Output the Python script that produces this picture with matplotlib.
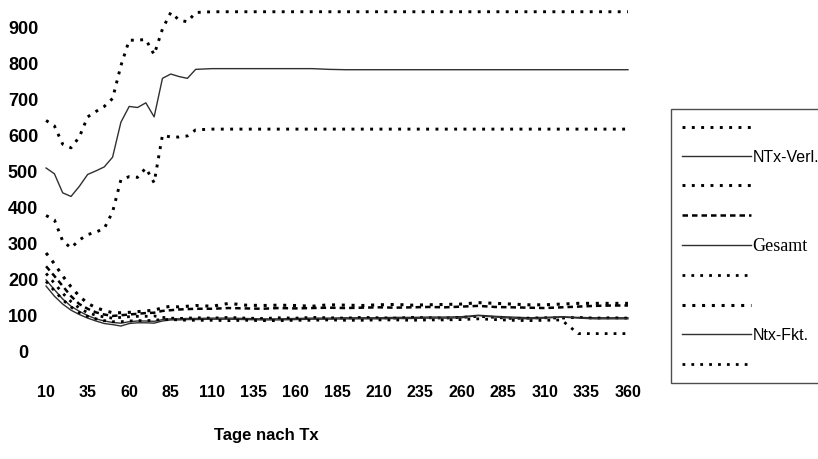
import matplotlib
matplotlib.use("Agg")
import matplotlib.pyplot as plt
from matplotlib.lines import Line2D

# Tage nach Tx
days = list(range(10, 101, 5)) + list(range(110, 361, 10))

# NTx-Verl. (oberes Band)
verl_hi = [643, 628, 577, 567, 597, 653, 668, 682, 704, 795, 866, 866, 868, 826, 897, 943, 922, 917, 943,
           945, 945, 945, 945, 945, 945, 945, 945, 945, 945, 945, 945, 945, 945, 945, 945, 945, 945, 945, 945,
           945, 945, 945, 945, 945, 945]
verl_mid = [511, 495, 442, 432, 460, 493, 503, 514, 541, 638, 682, 679, 692, 653, 760, 772, 765, 760, 785,
            787, 787, 787, 787, 787, 787, 787, 785, 784, 784, 784, 784, 784, 784, 784, 784, 784, 784, 784, 784,
            784, 784, 784, 784, 784, 784]
verl_lo = [379, 367, 308, 289, 311, 326, 333, 343, 389, 478, 487, 485, 511, 470, 602, 597, 597, 600, 617,
           619, 619, 619, 619, 619, 619, 619, 619, 619, 619, 619, 619, 619, 619, 619, 619, 619, 619, 619, 619,
           619, 619, 619, 619, 619, 619]

# Gesamt
ges_hi = [238, 211, 183, 155, 133, 120, 110, 104, 100, 102, 104, 106, 108, 109, 114, 116, 118, 119, 120,
          120, 122, 121, 120, 122, 121, 122, 123, 122, 123, 124, 123, 124, 125, 124, 126, 128, 125, 124, 123,
          122, 124, 126, 128, 129, 129]
ges_mid = [200, 173, 147, 127, 113, 101, 92, 86, 82, 80, 84, 86, 86, 85, 90, 92, 92, 93, 93,
           94, 94, 93, 92, 92, 93, 94, 94, 95, 95, 95, 96, 96, 97, 97, 98, 102, 99, 97, 95,
           96, 98, 96, 95, 95, 95]
ges_lo = [218, 191, 163, 140, 122, 109, 102, 97, 94, 96, 98, 99, 99, 100, 96, 94, 93, 94, 95,
          94, 96, 94, 93, 95, 94, 96, 95, 94, 96, 95, 94, 96, 95, 94, 96, 99, 96, 93, 94,
          95, 94, 96, 94, 95, 94]

# Ntx-Fkt.
fkt_hi = [275, 245, 211, 181, 155, 135, 123, 115, 109, 109, 110, 112, 114, 116, 123, 127, 125, 127, 129,
          127, 135, 130, 129, 130, 129, 127, 131, 130, 129, 131, 132, 130, 131, 132, 133, 137, 135, 133, 131,
          131, 133, 135, 135, 135, 135]
fkt_mid = [183, 155, 133, 116, 104, 94, 86, 79, 76, 72, 79, 81, 81, 80, 86, 89, 89, 90, 90,
           91, 91, 90, 89, 89, 90, 91, 91, 92, 92, 92, 93, 93, 94, 94, 95, 101, 97, 94, 92,
           94, 97, 94, 92, 92, 92]
fkt_lo = [196, 170, 145, 125, 109, 99, 92, 87, 84, 84, 86, 87, 87, 88, 90, 90, 89, 88, 88,
          88, 87, 88, 87, 87, 88, 88, 89, 88, 88, 89, 89, 88, 89, 89, 90, 92, 90, 88, 87,
          88, 89, 51, 51, 51, 51]

xticks = list(range(10, 361, 25))
yticks = list(range(0, 901, 100))

dot = (0, (1, 2.2))
dash = (0, (2.2, 1.6))
solid_c = "#303030"

fig = plt.figure(figsize=(8.18, 4.59), dpi=100)
ax = fig.add_axes([0.036, 0.194, 0.752, 0.800])

series = [
    (verl_hi, dot, 2.1, "black", ""),
    (verl_mid, "-", 1.0, solid_c, "NTx-Verl."),
    (verl_lo, dot, 2.1, "black", ""),
    (ges_hi, dash, 1.8, "black", ""),
    (ges_mid, "-", 1.0, solid_c, "Gesamt"),
    (ges_lo, dot, 2.0, "black", ""),
    (fkt_hi, dot, 2.2, "black", ""),
    (fkt_mid, "-", 1.0, solid_c, "Ntx-Fkt."),
    (fkt_lo, dot, 2.0, "black", ""),
]
handles = []
labels = []
for vals, ls, lw, col, lab in series:
    ax.plot(days, vals, linestyle=ls, linewidth=lw, color=col)
    handles.append(Line2D([], [], linestyle=ls, linewidth=lw, color=col))
    labels.append(lab)

ax.set_xlim(0, 370)
ax.set_ylim(-50, 970)
ax.set_xticks(xticks)
ax.set_yticks(yticks)
ax.set_xticklabels([str(t) for t in xticks], fontsize=11.5, fontweight="bold",
                   family=["Liberation Sans Narrow", "Liberation Sans"])
ax.set_yticklabels([str(t) for t in yticks], fontsize=13, fontweight="bold",
                   family="Liberation Sans")
for lbl in ax.get_yticklabels():
    lbl.set_horizontalalignment("center")
ax.tick_params(axis="y", length=0, pad=4.6)
ax.tick_params(axis="x", length=0, pad=11)
for s in ax.spines.values():
    s.set_visible(False)

fig.text(0.325, 0.052, "Tage nach Tx", ha="center", va="center", fontsize=12,
         fontweight="bold", family=["Liberation Sans Narrow", "Liberation Sans"])

leg = fig.legend(handles, labels, loc="upper left", bbox_to_anchor=(663 / 818, 1 - 101 / 459, 0.3, 0),
                 mode="expand", handlelength=4.3, handletextpad=0.1, labelspacing=0.9,
                 borderpad=0.7, fancybox=False, frameon=True, prop={"family": "Liberation Sans", "size": 11.5})
leg.get_frame().set_edgecolor("#222222")
leg.get_frame().set_linewidth(1.0)
leg.get_texts()[4].set_fontfamily("Liberation Serif")
leg.get_texts()[4].set_fontsize(13)

fig.savefig("out.png", dpi=100)
